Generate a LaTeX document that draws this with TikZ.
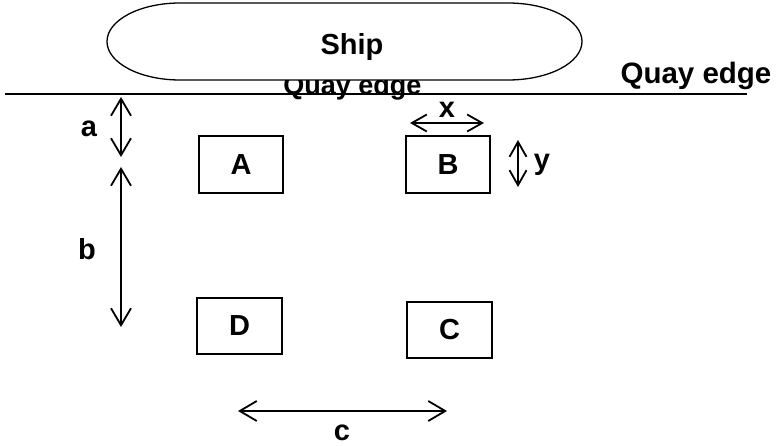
\documentclass[tikz,border=0pt]{standalone}
\usepackage{fontspec}
\setmainfont{Liberation Sans}
\usetikzlibrary{arrows.meta}
\begin{document}
\begin{tikzpicture}[x=1pt,y=-1pt,
  lbl/.style={font=\bfseries\fontsize{29}{29}\selectfont, inner sep=0pt, anchor=base},
  crate/.style={draw, line width=1.3pt, inner sep=0pt, font=\bfseries\fontsize{29}{29}\selectfont},
  dimbig/.style={line width=1.8pt, {Straight Barb[length=17pt,width=20pt]}-{Straight Barb[length=17pt,width=20pt]}},
  dimsmall/.style={line width=1.8pt, {Straight Barb[length=15pt,width=17pt]}-{Straight Barb[length=15pt,width=17pt]}},
  quay/.style={line width=1.4pt},
  hull/.style={line width=1.3pt, fill=white}]
\useasboundingbox (0,0) rectangle (780,446);
% small quay text (partly hidden by ship)
\node[lbl, font=\bfseries\fontsize{27}{27}\selectfont] (quaysmall) at (352.5,95) {Quay edge};
% ship hull
\draw[hull] (180,3) -- (508,3)
  arc[start angle=-90, end angle=90, x radius=74, y radius=38.5]
  -- (180,80)
  arc[start angle=90, end angle=270, x radius=73, y radius=38.5] -- cycle;
\node[lbl] (ship) at (352,55) {Ship};
% quay line
\coordinate (q1) at (5,94);
\coordinate (q2) at (747,94);
\draw[quay] (q1) -- (q2);
\node[lbl, font=\bfseries\fontsize{29.5}{29.5}\selectfont] (quayright) at (696,84) {Quay edge};
% boxes
\node[crate, minimum width=84pt, minimum height=57pt] (A) at (241,164.5) {A};
\node[crate, minimum width=84pt, minimum height=57pt] (B) at (448,164.5) {B};
\node[crate, minimum width=85pt, minimum height=56pt] (D) at (239.5,326) {D};
\node[crate, minimum width=85pt, minimum height=56pt] (C) at (449.5,330) {C};
% dimension arrows
\coordinate (a1) at (121,97);
\coordinate (a2) at (121,157);
\coordinate (b1) at (121,167);
\coordinate (b2) at (121,327);
\coordinate (c1) at (238,411);
\coordinate (c2) at (447,411);
\coordinate (x1) at (410,123);
\coordinate (x2) at (484,123);
\coordinate (y1) at (518,140);
\coordinate (y2) at (518,187);
\draw[dimbig] (a1) -- (a2);
\draw[dimbig] (b1) -- (b2);
\draw[dimbig] (c1) -- (c2);
\draw[dimsmall] (x1) -- (x2);
\draw[dimsmall] (y1) -- (y2);
% labels
\node[lbl] (la) at (89,137) {a};
\node[lbl] (lb) at (87,260) {b};
\node[lbl] (lc) at (342,441) {c};
\node[lbl] (lx) at (447,118) {x};
\node[lbl] (ly) at (542,170) {y};
\end{tikzpicture}
\end{document}
